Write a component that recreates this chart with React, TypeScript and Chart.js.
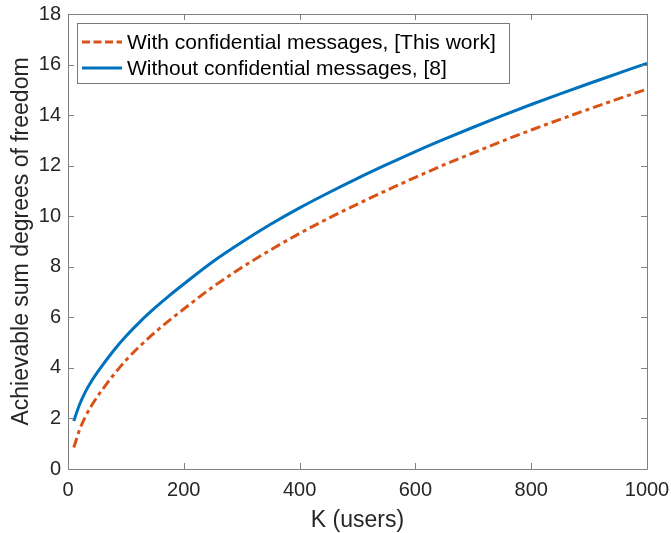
import React, { useEffect, useRef } from 'react';
import { Chart, registerables } from 'chart.js';

Chart.register(...registerables);

const kValues = [10, 20, 30, 40, 50, 60, 80, 100, 125, 150, 175, 200, 250, 300, 350, 400, 450, 500, 550, 600, 650, 700, 750, 800, 850, 900, 950, 1000];
const withoutConfidential = [1.9, 2.55, 3.05, 3.45, 3.8, 4.12, 4.72, 5.25, 5.84, 6.37, 6.86, 7.32, 8.2, 8.97, 9.68, 10.33, 10.93, 11.5, 12.04, 12.56, 13.05, 13.52, 13.98, 14.42, 14.84, 15.25, 15.65, 16.05];
const withConfidential = [0.85, 1.55, 2.07, 2.48, 2.84, 3.16, 3.76, 4.3, 4.88, 5.4, 5.88, 6.33, 7.2, 7.97, 8.67, 9.32, 9.92, 10.48, 11.02, 11.54, 12.04, 12.51, 12.97, 13.41, 13.83, 14.24, 14.64, 15.03];
const xTickValues = [0, 200, 400, 600, 800, 1000];
const yTickValues = [0, 2, 4, 6, 8, 10, 12, 14, 16, 18];
const seriesLabels = ['With confidential messages, [This work]', 'Without confidential messages, [8]'];
const xTitle = 'K (users)';
const yTitle = 'Achievable sum degrees of freedom';

const ORANGE = '#D95319';
const BLUE = '#0072BD';
const TEXT = '#262626';
const AXIS = '#808080';
const FONT = "'Liberation Sans', Arial, Helvetica, sans-serif";

const framePlugin = {
  id: 'matlabFrame',
  afterDatasetsDraw(chart: any) {
    const { ctx, chartArea } = chart;
    const { left, right, top, bottom } = chartArea;
    const xs = chart.scales.x;
    const ys = chart.scales.y;
    const tl = 6;
    ctx.save();
    ctx.strokeStyle = AXIS;
    ctx.lineWidth = 1;
    ctx.setLineDash([]);
    ctx.beginPath();
    ctx.rect(Math.round(left) + 0.5, Math.round(top) + 0.5, Math.round(right - left), Math.round(bottom - top));
    ctx.stroke();
    ctx.beginPath();
    xTickValues.forEach((v) => {
      const px = Math.round(xs.getPixelForValue(v)) + 0.5;
      ctx.moveTo(px, bottom);
      ctx.lineTo(px, bottom - tl);
      ctx.moveTo(px, top);
      ctx.lineTo(px, top + tl);
    });
    yTickValues.forEach((v) => {
      const py = Math.round(ys.getPixelForValue(v)) + 0.5;
      ctx.moveTo(left, py);
      ctx.lineTo(left + tl, py);
      ctx.moveTo(right, py);
      ctx.lineTo(right - tl, py);
    });
    ctx.stroke();

    // legend
    const bx = 77.5, by = 23.5, bw = 432, bh = 60;
    ctx.fillStyle = '#ffffff';
    ctx.fillRect(bx, by, bw, bh);
    ctx.strokeStyle = '#7a7a7a';
    ctx.lineWidth = 1;
    ctx.strokeRect(bx, by, bw, bh);
    const rows = [
      { label: seriesLabels[0], color: ORANGE, dash: [8, 3.5], y: 42 },
      { label: seriesLabels[1], color: BLUE, dash: [], y: 68 },
    ];
    ctx.font = `21px ${FONT}`;
    ctx.textBaseline = 'middle';
    ctx.textAlign = 'left';
    rows.forEach((r) => {
      ctx.strokeStyle = r.color;
      ctx.lineWidth = 3;
      ctx.setLineDash(r.dash);
      ctx.beginPath();
      ctx.moveTo(82, r.y);
      ctx.lineTo(122, r.y);
      ctx.stroke();
      ctx.setLineDash([]);
      ctx.fillStyle = '#000000';
      ctx.fillText(r.label, 127, r.y + 1);
    });
    ctx.restore();
  },
};

export default function App() {
  const canvasRef = useRef<HTMLCanvasElement | null>(null);

  useEffect(() => {
    if (!canvasRef.current) return;
    const chart = new Chart(canvasRef.current, {
      type: 'line',
      data: {
        datasets: [
          {
            label: seriesLabels[0],
            data: kValues.map((k, i) => ({ x: k, y: withConfidential[i] })),
            borderColor: ORANGE,
            backgroundColor: ORANGE,
            borderWidth: 3,
            borderDash: [10, 4, 4, 4],
            pointRadius: 0,
            cubicInterpolationMode: 'monotone',
            fill: false,
          },
          {
            label: seriesLabels[1],
            data: kValues.map((k, i) => ({ x: k, y: withoutConfidential[i] })),
            borderColor: BLUE,
            backgroundColor: BLUE,
            borderWidth: 3,
            pointRadius: 0,
            cubicInterpolationMode: 'monotone',
            fill: false,
          },
        ],
      },
      options: {
        animation: false,
        responsive: false,
        maintainAspectRatio: false,
        layout: { padding: { top: 14, right: 24, left: 0, bottom: 0 } },
        plugins: {
          legend: { display: false },
          tooltip: { enabled: false },
        },
        scales: {
          x: {
            type: 'linear',
            min: 0,
            max: 1000,
            afterFit: (s: any) => { s.height = 64; s.paddingLeft = 0; s.paddingRight = 0; s.paddingTop = 0; s.paddingBottom = 0; },
            afterBuildTicks: (s: any) => { s.ticks = xTickValues.map((v) => ({ value: v })); },
            grid: { display: false, drawTicks: false },
            border: { display: false },
            ticks: { color: TEXT, font: { size: 20, family: FONT }, padding: 9, maxRotation: 0, callback: (v: any) => String(v) },
            title: { display: true, text: xTitle, color: TEXT, font: { size: 23, family: FONT }, padding: { top: 0, bottom: -1 } },
          },
          y: {
            type: 'linear',
            min: 0,
            max: 18,
            afterFit: (s: any) => { s.width = 68; s.paddingLeft = 0; s.paddingRight = 0; s.paddingTop = 0; s.paddingBottom = 0; },
            afterBuildTicks: (s: any) => { s.ticks = yTickValues.map((v) => ({ value: v })); },
            grid: { display: false, drawTicks: false },
            border: { display: false },
            ticks: { color: TEXT, font: { size: 20, family: FONT }, padding: 7, callback: (v: any) => String(v) },
            title: { display: true, text: yTitle, color: TEXT, font: { size: 23, family: FONT }, padding: { top: 8, bottom: 0 } },
          },
        },
      },
      plugins: [framePlugin],
    });
    return () => chart.destroy();
  }, []);

  return (
    <div style={{ position: 'absolute', left: 0, top: 0, width: 671, height: 533, background: '#fff' }}>
      <canvas ref={canvasRef} width={671} height={533} style={{ width: 671, height: 533, display: 'block' }} />
    </div>
  );
}
